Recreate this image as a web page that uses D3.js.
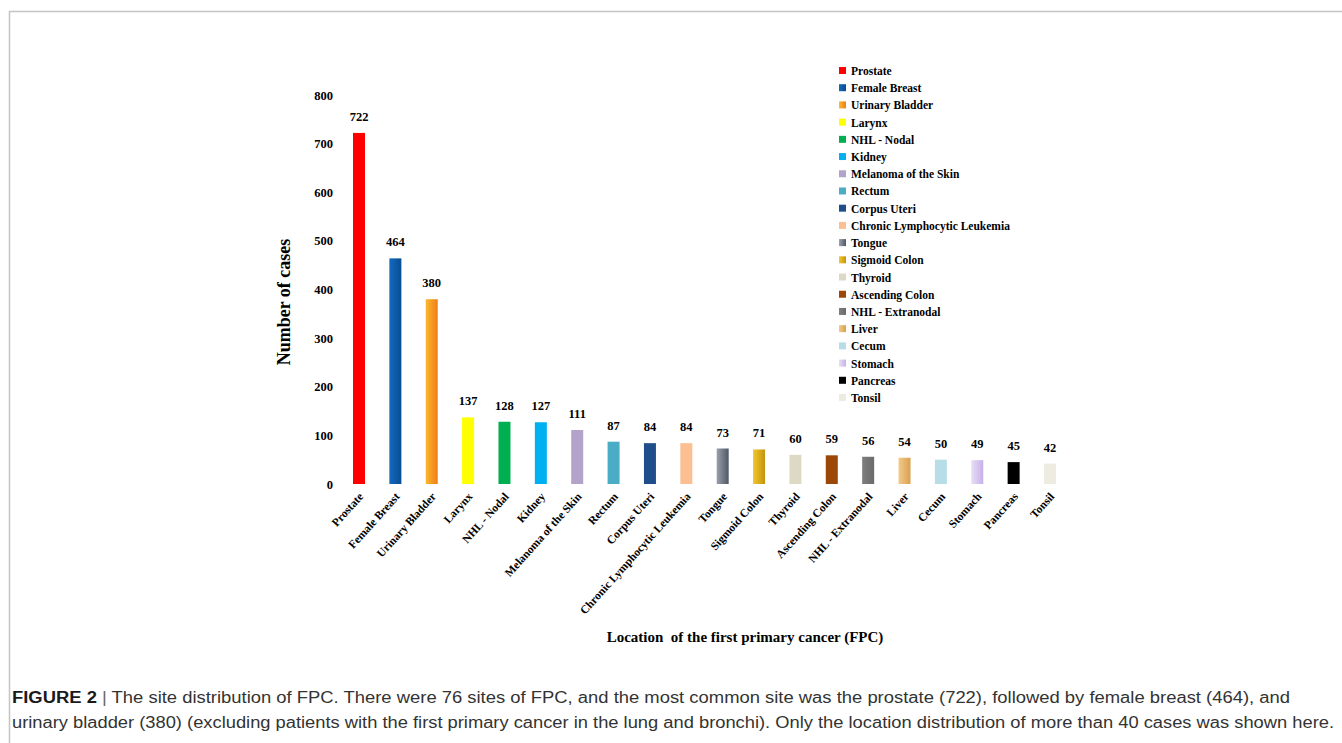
<!DOCTYPE html>
<html>
<head>
<meta charset="utf-8">
<style>
body { margin: 0; background: #fff; }
text { font-family: "Liberation Serif", "Times New Roman", serif; font-weight: bold; fill: #000; }
.caption text { font-family: "Liberation Sans", Arial, sans-serif; font-weight: normal; fill: #333; }
.axis .domain, .axis line { display: none; }
</style>
</head>
<body>

<svg id="chart" width="1342" height="743"></svg>

<script src="https://d3js.org/d3.v7.min.js"></script>
<script>

var sites = ["Prostate", "Female Breast", "Urinary Bladder", "Larynx", "NHL - Nodal",
    "Kidney", "Melanoma of the Skin", "Rectum", "Corpus Uteri",
    "Chronic Lymphocytic Leukemia", "Tongue", "Sigmoid Colon", "Thyroid",
    "Ascending Colon", "NHL - Extranodal", "Liver", "Cecum", "Stomach",
    "Pancreas", "Tonsil"];
var cases = [722, 464, 380, 137, 128, 127, 111, 87, 84, 84, 73, 71, 60, 59, 56, 54, 50, 49, 45, 42];
var yTicks = [0, 100, 200, 300, 400, 500, 600, 700, 800];

// light / dark pair per bar (same value = flat fill)
var fillLight = ["#ff0000", "#1369c0", "#fcb92c", "#ffff00", "#00b050", "#00b0f0", "#b3a2c9",
    "#4bacc6", "#1f4e8a", "#fbbf92", "#9aa1ad", "#f5c72a", "#ddd9c4", "#9c4708",
    "#7f7f7f", "#f3ca8c", "#b7dee8", "#e8def7", "#000000", "#eeece1"];
var fillDark = ["#ff0000", "#0a4d92", "#ee7d1a", "#ffff00", "#00b050", "#00b0f0", "#b3a2c9",
    "#4bacc6", "#1f4e8a", "#fbbf92", "#4f5764", "#c2940e", "#ddd9c4", "#9c4708",
    "#6a6a6a", "#d9a04e", "#b7dee8", "#c6b0e8", "#000000", "#eeece1"];

var svg = d3.select("#chart");

// frame lines
svg.append("line").attr("x1", 9).attr("x2", 1342).attr("y1", 11.5).attr("y2", 11.5)
    .attr("stroke", "#c4c4c4").attr("stroke-width", 1.5);
svg.append("line").attr("x1", 9.5).attr("x2", 9.5).attr("y1", 11).attr("y2", 743)
    .attr("stroke", "#c4c4c4").attr("stroke-width", 1.5);

var defs = svg.append("defs");
sites.forEach(function(s, i) {
    var g = defs.append("linearGradient").attr("id", "grad" + i)
        .attr("x1", "0%").attr("x2", "100%").attr("y1", "0%").attr("y2", "0%");
    g.append("stop").attr("offset", "0%").attr("stop-color", fillLight[i]);
    g.append("stop").attr("offset", "100%").attr("stop-color", fillDark[i]);
});

var xScale = d3.scalePoint()
    .domain(sites)
    .range([359, 1050]);

var yScale = d3.scaleLinear()
    .domain([0, 800])
    .range([484, 95]);

var barW = 12;

// y axis
svg.append("g")
    .attr("class", "axis")
    .attr("transform", "translate(333,0)")
    .call(d3.axisLeft(yScale).tickValues(yTicks).tickSize(0).tickPadding(0))
    .selectAll("text")
    .style("font-family", "Liberation Serif, serif")
    .style("font-weight", "bold")
    .style("font-size", "12.5px");

// bars
svg.selectAll("rect.bar")
    .data(sites)
    .enter()
    .append("rect")
    .attr("class", "bar")
    .attr("x", function(d) { return xScale(d) - barW / 2; })
    .attr("y", function(d, i) { return yScale(cases[i]); })
    .attr("width", barW)
    .attr("height", function(d, i) { return yScale(0) - yScale(cases[i]); })
    .attr("fill", function(d, i) { return "url(#grad" + i + ")"; });

// value labels
svg.selectAll("text.val")
    .data(sites)
    .enter()
    .append("text")
    .attr("class", "val")
    .attr("x", function(d) { return xScale(d); })
    .attr("y", function(d, i) { return yScale(cases[i]) - 12; })
    .attr("text-anchor", "middle")
    .style("font-size", "12.5px")
    .text(function(d, i) { return cases[i]; });

// category labels
svg.selectAll("text.cat")
    .data(sites)
    .enter()
    .append("text")
    .attr("class", "cat")
    .attr("text-anchor", "end")
    .attr("transform", function(d) {
        return "translate(" + (xScale(d) + 5) + ",497) rotate(-48)";
    })
    .style("font-size", "11.5px")
    .text(function(d) { return d; });

// axis titles
svg.append("text")
    .attr("transform", "translate(290,302) rotate(-90)")
    .attr("text-anchor", "middle")
    .style("font-size", "18px")
    .text("Number of cases");

svg.append("text")
    .attr("x", 745)
    .attr("y", 642)
    .attr("text-anchor", "middle")
    .style("font-size", "15px")
    .attr("xml:space", "preserve")
    .text("Location  of the first primary cancer (FPC)");

// legend
var legend = svg.append("g").attr("transform", "translate(839,71)");
var legendY = d3.scalePoint().domain(sites).range([0, 327]);
var item = legend.selectAll("g")
    .data(sites)
    .enter()
    .append("g")
    .attr("transform", function(d) { return "translate(0," + legendY(d) + ")"; });
item.append("rect")
    .attr("x", 0).attr("y", -4).attr("width", 7).attr("height", 7)
    .attr("fill", function(d, i) { return "url(#grad" + i + ")"; });
item.append("text")
    .attr("x", 12).attr("y", 4)
    .style("font-size", "11.5px")
    .text(function(d) { return d; });

// caption
var cap = svg.append("g").attr("class", "caption");
var l1 = cap.append("text").attr("x", 12).attr("y", 703)
    .attr("textLength", 1278).attr("lengthAdjust", "spacingAndGlyphs")
    .style("font-size", "16px");
l1.append("tspan").style("font-weight", "bold").style("fill", "#1a1a1a").text("FIGURE 2");
l1.append("tspan").style("fill", "#666").text(" | ");
l1.append("tspan").text("The site distribution of FPC. There were 76 sites of FPC, and the most common site was the prostate (722), followed by female breast (464), and");
cap.append("text").attr("x", 12).attr("y", 728)
    .attr("textLength", 1322).attr("lengthAdjust", "spacingAndGlyphs")
    .style("font-size", "16px")
    .text("urinary bladder (380) (excluding patients with the first primary cancer in the lung and bronchi). Only the location distribution of more than 40 cases was shown here.");

</script>
</body>
</html>
